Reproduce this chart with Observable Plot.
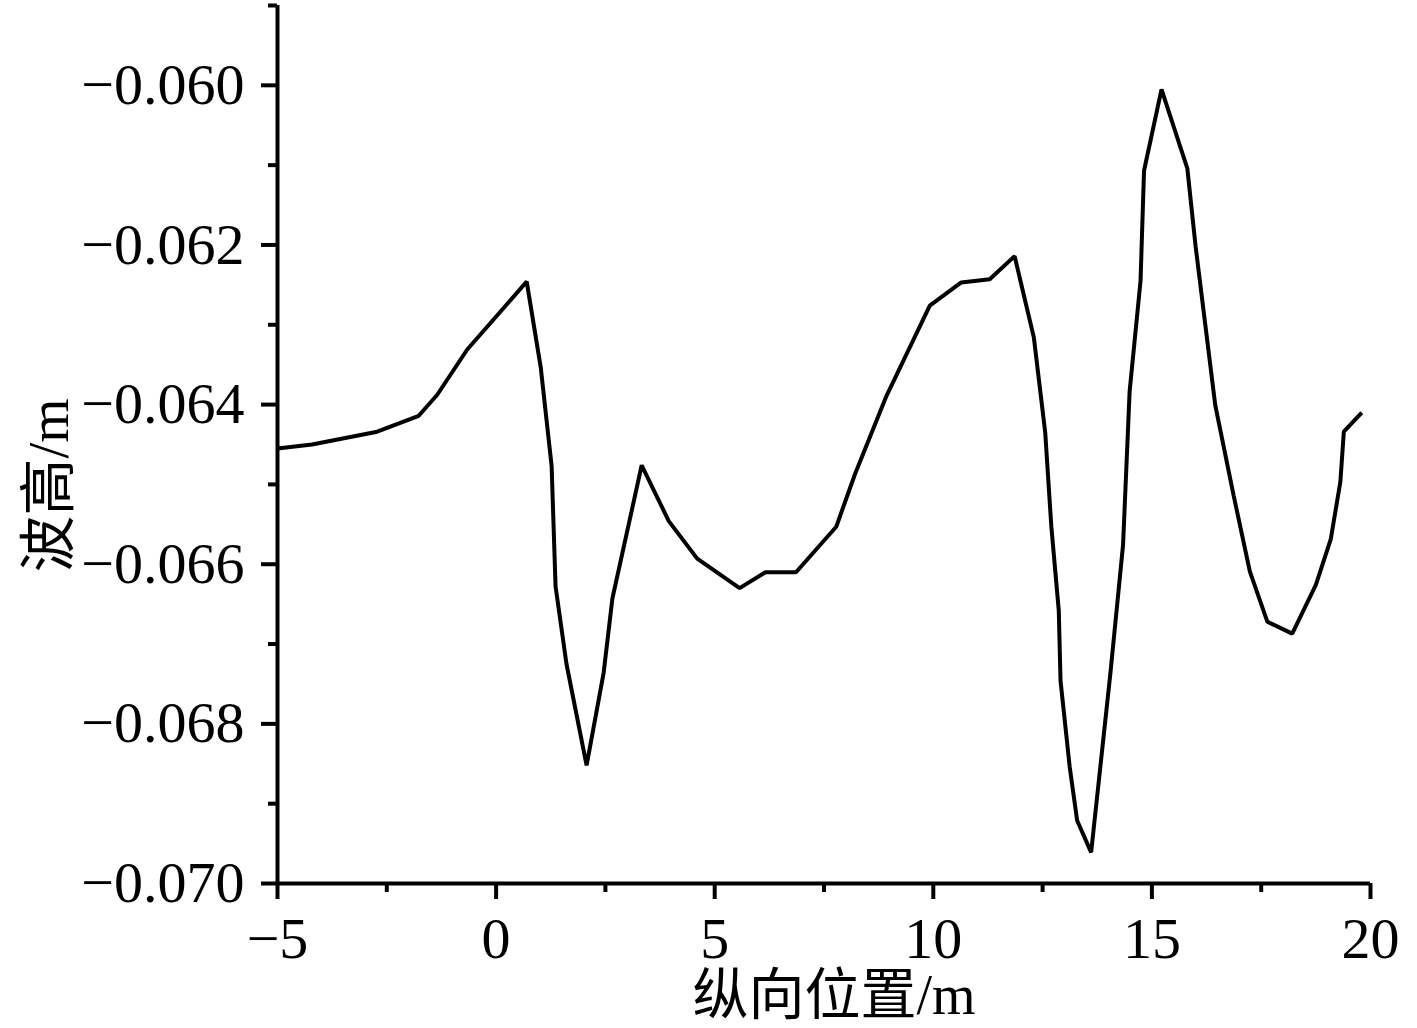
<!DOCTYPE html>
<html>
<head>
<meta charset="utf-8">
<script src="https://cdn.jsdelivr.net/npm/d3@7"></script>
<script src="https://cdn.jsdelivr.net/npm/@observablehq/plot@0.6"></script>
<style>
  html, body { margin: 0; padding: 0; background: #fff; }
  #chart svg { display: block; }
</style>
</head>
<body>
<div id="chart"></div>
<script>
// Longitudinal position (m)
const positions = [
  -5.00, -4.21, -2.72, -1.77, -1.35, -0.66, 0.70, 1.02, 1.27, 1.36,
  1.61, 2.07, 2.46, 2.66, 3.33, 3.95, 4.60, 5.57, 6.16, 6.86,
  7.78, 8.21, 8.93, 9.92, 10.64, 11.29, 11.86, 12.30, 12.56, 12.70,
  12.87, 12.91, 13.12, 13.29, 13.61, 14.05, 14.34, 14.49, 14.74, 14.82,
  15.22, 15.81, 16.00, 16.45, 16.87, 17.24, 17.64, 18.21, 18.75, 19.09,
  19.31, 19.39, 19.80
];
// Wave height (m)
const waveHeights = [
  -0.06455, -0.06450, -0.06434, -0.06414, -0.06388, -0.06331, -0.06246, -0.06353, -0.06477, -0.06628,
  -0.06725, -0.06852, -0.06736, -0.06643, -0.06476, -0.06546, -0.06593, -0.06630, -0.06610, -0.06610,
  -0.06553, -0.06487, -0.06389, -0.06276, -0.06247, -0.06243, -0.06214, -0.06316, -0.06435, -0.06553,
  -0.06658, -0.06746, -0.06854, -0.06921, -0.06961, -0.06737, -0.06576, -0.06384, -0.06245, -0.06107,
  -0.06005, -0.06104, -0.06202, -0.06401, -0.06514, -0.06609, -0.06672, -0.06687, -0.06626, -0.06569,
  -0.06497, -0.06434, -0.06410
];
const xMajorTicks = [-5, 0, 5, 10, 15, 20];
const xMinorTicks = [-2.5, 2.5, 7.5, 12.5, 17.5];
const yMajorTicks = [-0.070, -0.068, -0.066, -0.064, -0.062, -0.060];
const yMinorTicks = [-0.069, -0.067, -0.065, -0.063, -0.061, -0.059];
const xTitle = "纵向位置/m";
const yTitle = "波高/m";

const data = positions.map((x, i) => ({x, y: waveHeights[i]}));

const font = "'Liberation Serif', 'Noto Sans CJK SC', serif";
const sw = 4;

const chart = Plot.plot({
  width: 1417,
  height: 1028,
  marginLeft: 277,
  marginRight: 47,
  marginTop: 5,
  marginBottom: 145,
  style: {fontFamily: font, fontSize: "58px", color: "#000", background: "#fff"},
  x: {domain: [-5, 20]},
  y: {domain: [-0.070, -0.059]},
  marks: [
    Plot.line(data, {x: "x", y: "y", stroke: "#000", strokeWidth: 4, strokeLinejoin: "miter", strokeLinecap: "butt"}),
    Plot.axisX({ticks: xMajorTicks, tickSize: 16, tickPadding: 17, strokeWidth: sw, tickFormat: d => d < 0 ? "\u2212" + Math.abs(d) : String(d), label: null, fontSize: 58}),
    Plot.axisX({ticks: xMinorTicks, tickSize: 9, strokeWidth: sw, tickFormat: () => "", label: null}),
    Plot.axisY({ticks: yMajorTicks, tickSize: 16, tickPadding: 17, strokeWidth: sw, tickFormat: d3.format(".3f"), label: null, fontSize: 58}),
    Plot.axisY({ticks: yMinorTicks, tickSize: 9, strokeWidth: sw, tickFormat: () => "", label: null}),
    Plot.ruleX([-5], {stroke: "#000", strokeWidth: sw}),
    Plot.ruleY([-0.070], {stroke: "#000", strokeWidth: sw}),
    Plot.text([xTitle], {frameAnchor: "bottom", text: d => d, dx: 10, dy: 113, lineAnchor: "middle", fontSize: 56, fill: "#000"}),
    Plot.text([yTitle], {frameAnchor: "left", text: d => d, rotate: -90, dx: -228, dy: 41, lineAnchor: "middle", textAnchor: "middle", fontSize: 57, fill: "#000"})
  ]
});
document.getElementById("chart").appendChild(chart);
</script>
</body>
</html>
